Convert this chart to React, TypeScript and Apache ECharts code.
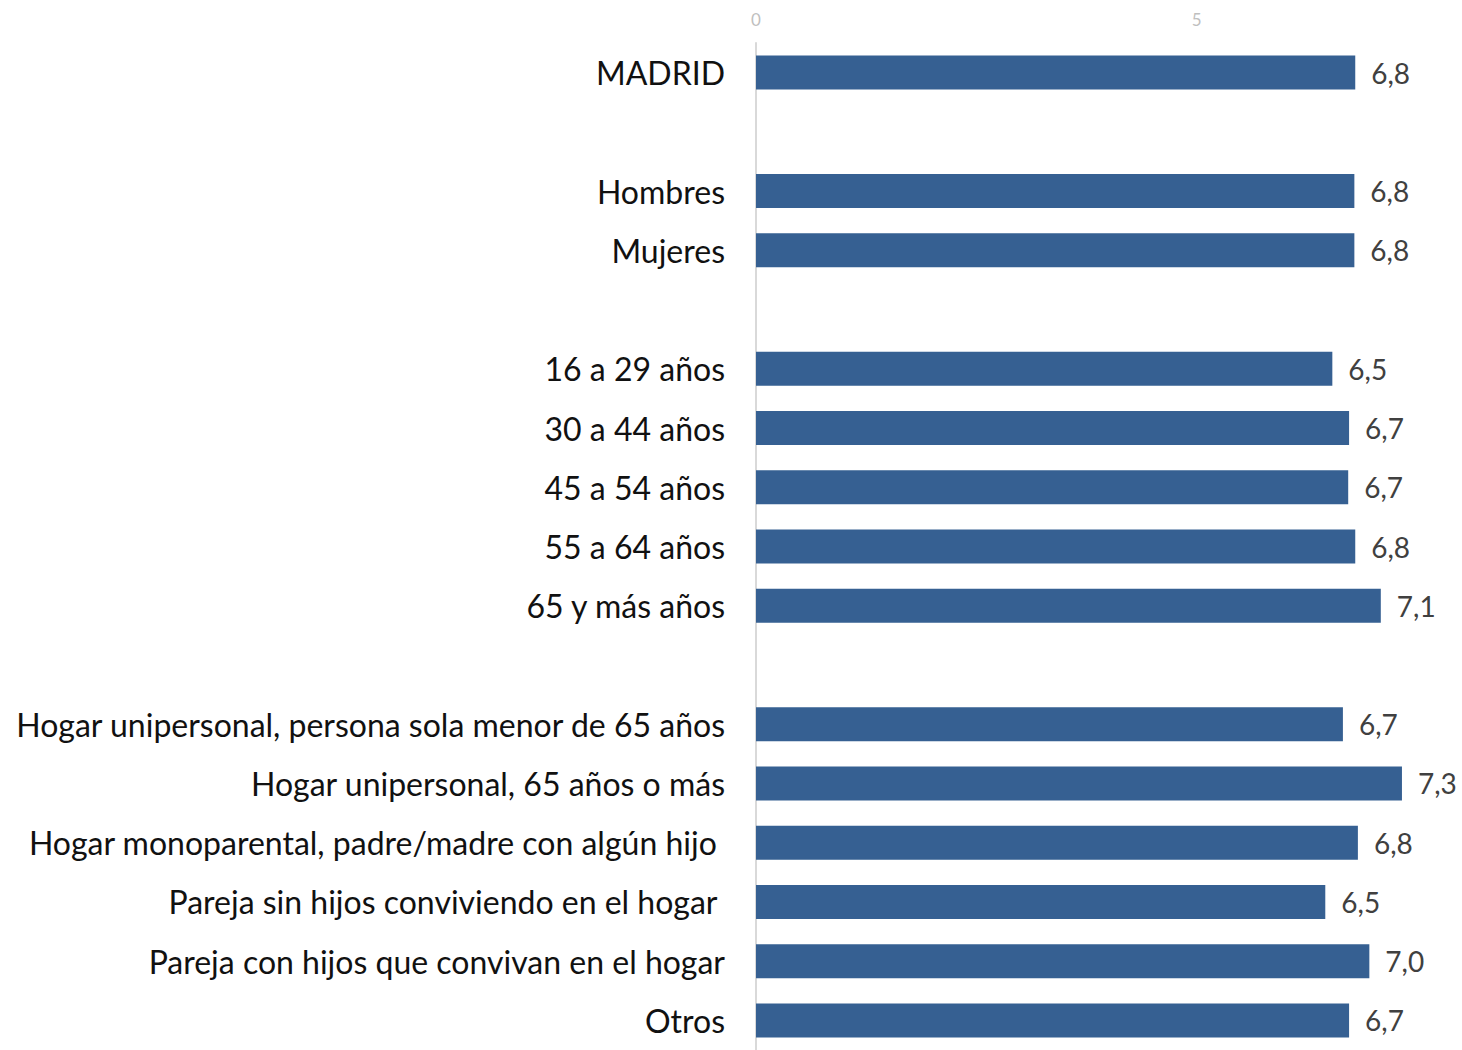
import React, { useEffect, useRef } from "react";
import * as echarts from "echarts";

const categories: string[] = [
  "MADRID",
  "",
  "Hombres",
  "Mujeres",
  "",
  "16 a 29 años",
  "30 a 44 años",
  "45 a 54 años",
  "55 a 64 años",
  "65 y más años",
  "",
  "Hogar unipersonal, persona sola menor de 65 años",
  "Hogar unipersonal, 65 años o más",
  "Hogar monoparental, padre/madre con algún hijo ",
  "Pareja sin hijos conviviendo en el hogar ",
  "Pareja con hijos que convivan en el hogar",
  "Otros",
];

const values: (number | null)[] = [
  6.8, null, 6.79, 6.79, null, 6.54, 6.73, 6.72, 6.8, 7.09, null, 6.66, 7.33, 6.83, 6.46, 6.96, 6.73,
];

const axisMin = 0;
const axisMax = 8;
const axisInterval = 5;

export default function App() {
  const ref = useRef<HTMLDivElement>(null);
  useEffect(() => {
    if (!ref.current) return;
    const chart = echarts.init(ref.current, null, { renderer: "svg" });
    chart.setOption({
      animation: false,
      grid: { left: 756, right: 1, top: 43, height: 1012, containLabel: false },
      xAxis: {
        type: "value",
        position: "top",
        min: axisMin,
        max: axisMax,
        interval: axisInterval,
        axisLine: { show: false },
        axisTick: { show: false },
        splitLine: { show: false },
        axisLabel: {
          showMaxLabel: false,
          fontFamily: "Lato",
          fontSize: 17,
          color: "#bfbfbf",
          margin: 15,
        },
      },
      yAxis: {
        type: "category",
        inverse: true,
        data: categories,
        axisLine: { show: true, lineStyle: { color: "#d9d9d9", width: 2 } },
        axisTick: { show: false },
        axisLabel: {
          fontFamily: "Lato",
          fontSize: 32,
          color: "#111111",
          margin: 31,
        },
      },
      series: [
        {
          type: "bar",
          data: values,
          barWidth: 34,
          itemStyle: { color: "#366092" },
          label: {
            show: true,
            position: "right",
            distance: 16,
            fontFamily: "Lato",
            fontSize: 28,
            color: "#404040",
            formatter: (p: any) =>
              p.value == null ? "" : Number(p.value).toFixed(1).replace(".", ","),
          },
        },
      ],
    });
    return () => chart.dispose();
  }, []);
  return (
    <div
      ref={ref}
      style={{ position: "absolute", left: 0, top: 0, width: 1462, height: 1050 }}
    />
  );
}
